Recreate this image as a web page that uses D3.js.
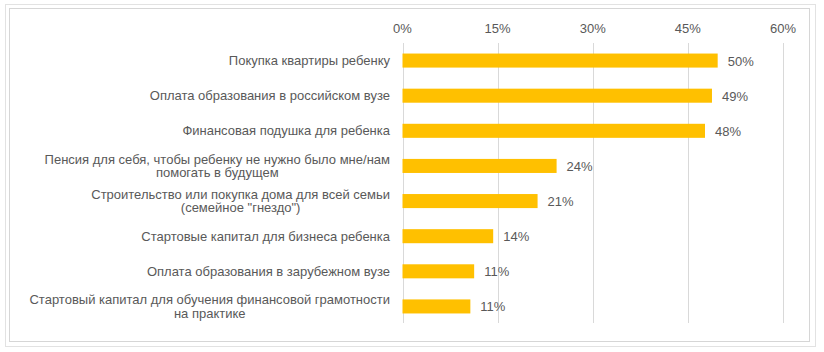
<html>
<head>
<meta charset="utf-8"/>
<script src="https://d3js.org/d3.v7.min.js"></script>
<style type="text/css">
body {
  margin: 0;
  background: #fff;
  font-family: "Liberation Sans", Arial, sans-serif;
}
</style>
</head>
<body>
<div id="v"></div>
<script type="text/javascript">
var categories = [
  ["Покупка квартиры ребенку"],
  ["Оплата образования в российском вузе"],
  ["Финансовая подушка для ребенка"],
  ["Пенсия для себя, чтобы ребенку не нужно было мне/нам", "помогать в будущем"],
  ["Строительство или покупка дома для всей семьи", "(семейное \"гнездо\")"],
  ["Стартовые капитал для бизнеса ребенка"],
  ["Оплата образования в зарубежном вузе"],
  ["Стартовый капитал для обучения финансовой грамотности", "на практике"]
];
var values = [0.497, 0.488, 0.477, 0.243, 0.213, 0.143, 0.113, 0.107];
var valueLabels = ["50%", "49%", "48%", "24%", "21%", "14%", "11%", "11%"];
var tickValues = [0, 0.15, 0.30, 0.45, 0.60];

var width = 824, height = 352;
var fs = "13px";
var svg = d3.select("#v").append("svg")
  .attr("width", width)
  .attr("height", height);

// double frame
svg.append("rect").attr("x", 5.5).attr("y", 4.5).attr("width", 810).attr("height", 342)
  .attr("fill", "none").attr("stroke", "#e2e2e2");
svg.append("rect").attr("x", 9.5).attr("y", 8.5).attr("width", 800).attr("height", 333)
  .attr("fill", "none").attr("stroke", "#d6d6d6");

var x = d3.scaleLinear().domain([0, 0.6]).range([402.5, 783]);
var y = d3.scaleBand().domain(d3.range(categories.length)).range([43, 324])
  .paddingInner(0.6).paddingOuter(0.3);

// grid
svg.append("g").selectAll("line")
  .data(tickValues).enter()
  .append("line")
  .attr("x1", function(d) { return Math.round(x(d)) + 0.5; })
  .attr("x2", function(d) { return Math.round(x(d)) + 0.5; })
  .attr("y1", 43)
  .attr("y2", 323)
  .attr("stroke", "#d9d9d9");

// top axis labels
svg.append("g").selectAll("text")
  .data(tickValues).enter()
  .append("text")
  .attr("x", function(d) { return x(d); })
  .attr("y", 33)
  .attr("text-anchor", "middle")
  .attr("fill", "#595959")
  .style("font-size", fs)
  .text(function(d) { return d3.format(".0%")(d); });

// bars
svg.append("g").selectAll("rect")
  .data(values).enter()
  .append("rect")
  .attr("x", x(0))
  .attr("y", function(d, i) { return y(i); })
  .attr("width", function(d) { return x(d) - x(0); })
  .attr("height", y.bandwidth())
  .attr("fill", "#ffc000");

// value labels
svg.append("g").selectAll("text")
  .data(values).enter()
  .append("text")
  .attr("x", function(d) { return x(d) + 10; })
  .attr("y", function(d, i) { return y(i) + y.bandwidth() / 2 + 5; })
  .attr("fill", "#595959")
  .style("font-size", fs)
  .text(function(d, i) { return valueLabels[i]; });

// category labels, multi-line centred block aligned to the right
var lineH = 13.5;
var catG = svg.append("g");
categories.forEach(function(lines, i) {
  var cy = y(i) + y.bandwidth() / 2;
  var t = catG.append("text")
    .attr("fill", "#595959")
    .style("font-size", fs)
    .attr("text-anchor", "middle");
  var spans = lines.map(function(s, k) {
    return t.append("tspan")
      .attr("y", cy + 4.5 + (k - (lines.length - 1) / 2) * lineH)
      .text(s);
  });
  var maxW = d3.max(spans, function(s) { return s.node().getComputedTextLength(); });
  spans.forEach(function(s) { s.attr("x", 390 - maxW / 2); });
});
</script>
</body>
</html>
